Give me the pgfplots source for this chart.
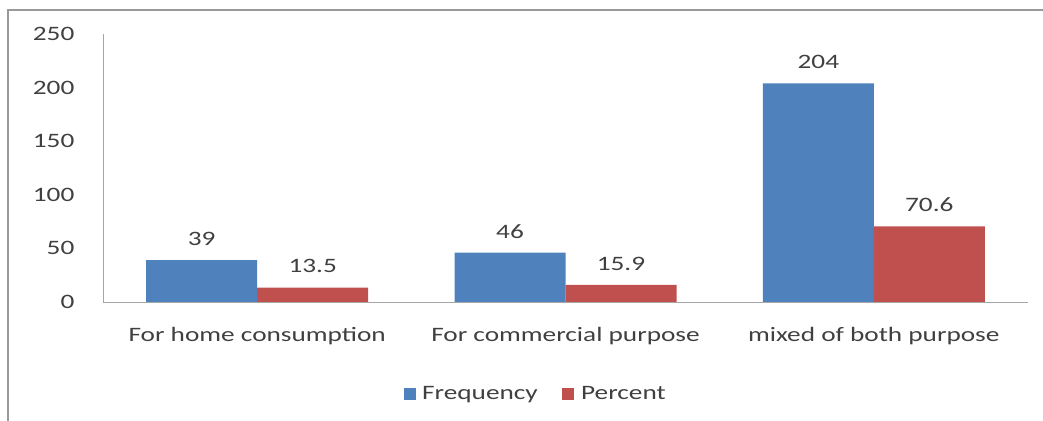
\documentclass[border=0pt]{standalone}
\usepackage{pgfplots}
\pgfplotsset{compat=1.18}
\usepackage{fontspec}
\setmainfont{Carlito}
\definecolor{bblue}{HTML}{4F81BD}
\definecolor{bred}{HTML}{C0504D}
\definecolor{txt}{HTML}{404040}
\begin{document}
\begin{tikzpicture}[x=1pt,y=1pt]
\useasboundingbox (0,0) rectangle (1043,420);
\draw[gray!80,line width=1.2pt] (8,-10) rectangle (1070,410);
\begin{axis}[
  at={(103pt,118pt)}, anchor=south west,
  scale only axis, width=925pt, height=268pt,
  ybar=0pt, bar width=111pt,
  xmin=-0.5, xmax=2.5, ymin=0, ymax=250,
  ytick={0,50,100,150,200,250},
  xtick=data,
  xticklabels={For home consumption, For commercial purpose, mixed of both purpose},
  axis x line=bottom, axis y line=left,
  axis line style={-, gray!70, line width=0.8pt},
  major tick length=0pt,
  /pgf/number format/assume math mode=true,
  font=\fontsize{20.5}{24}\selectfont\color{txt},
  every tick label/.append style={xscale=1.33, text=txt},
  yticklabel style={xshift=-18pt},
  xticklabel style={yshift=-22pt},
  nodes near coords,
  nodes near coords style={xscale=1.33, text=txt, yshift=11pt},
  legend style={draw=none, at={(0.468,-0.343)}, anchor=center, legend columns=-1,
    font=\fontsize{20.5}{24}\selectfont\color{txt},
    nodes={xscale=1.33},
    /tikz/every even column/.append style={column sep=22pt}},
  legend image code/.code={\fill[#1] (0pt,-6pt) rectangle (12pt,6pt); \path (16pt,0pt);},
]
\addplot[fill=bblue, draw=none] coordinates {(0,39) (1,46) (2,204)};
\addplot[fill=bred, draw=none] coordinates {(0,13.5) (1,15.9) (2,70.6)};
\legend{Frequency, Percent}
\end{axis}
\end{tikzpicture}
\end{document}
